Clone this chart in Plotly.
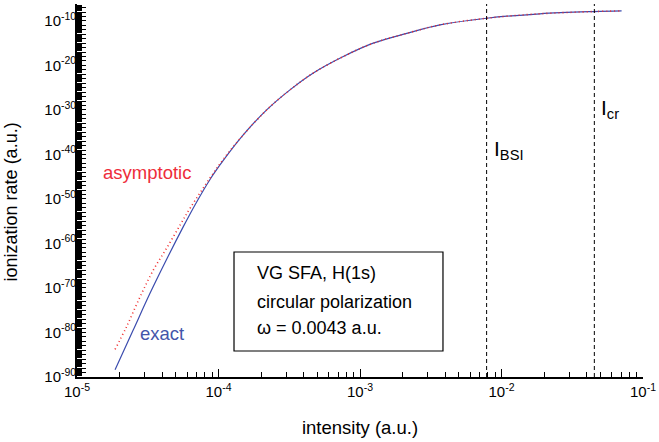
import math
import plotly.graph_objects as go

# ---- data ----
exact_intensity = [1.858e-5, 2.50e-5, 3.28e-5, 4.31e-5, 5.64e-5, 6.82e-5, 8.71e-5, 1.081e-4,
                   1.496e-4, 2.19e-4, 3.20e-4, 4.68e-4, 7.62e-4, 1.24e-3, 2.14e-3, 3.67e-3,
                   7.85e-3, 1.87e-2, 4.47e-2, 7.06e-2]
exact_rate = [4.0e-89, 4.0e-80, 6.3e-72, 3.2e-64, 6.0e-57, 4.5e-52, 2.4e-46, 4.5e-42,
              2.4e-36, 1.0e-30, 3.2e-26, 2.0e-22, 1.0e-18, 1.0e-15, 1.6e-13, 1.26e-11,
              4.0e-10, 4.0e-9, 1.26e-8, 1.78e-8]

asym_intensity = [1.858e-5, 2.24e-5, 2.79e-5, 3.46e-5, 4.31e-5, 5.37e-5, 6.35e-5, 8.71e-5,
                  1.081e-4, 1.496e-4, 2.19e-4, 3.20e-4, 4.68e-4, 7.62e-4, 1.24e-3, 2.14e-3,
                  3.67e-3, 7.85e-3, 1.87e-2, 4.47e-2, 7.06e-2]
asym_rate = [1.6e-84, 2.0e-79, 1.0e-72, 1.0e-66, 1.0e-61, 1.6e-56, 1.26e-52, 5.0e-46,
             8.0e-42, 2.5e-36, 1.0e-30, 3.2e-26, 2.0e-22, 1.0e-18, 1.0e-15, 1.6e-13,
             1.26e-11, 4.0e-10, 4.0e-9, 1.26e-8, 1.78e-8]

marker_names = ["BSI", "cr"]
marker_intensity = [7.85e-3, 4.53e-2]

x_decades = [-5, -4, -3, -2, -1]
y_label_decades = [-90, -80, -70, -60, -50, -40, -30, -20, -10]
info_lines = ["VG SFA, H(1s)", "circular polarization", "ω = 0.0043 a.u."]

FONT = "Liberation Sans, Arial, Helvetica, sans-serif"
BLUE = "#3b4cae"
RED = "#f02a2a"

fig = go.Figure()
fig.add_trace(go.Scatter(x=exact_intensity, y=exact_rate, mode="lines",
                         line=dict(color=BLUE, width=1.2, shape="spline", smoothing=1.0),
                         showlegend=False, name="exact"))
fig.add_trace(go.Scatter(x=asym_intensity, y=asym_rate, mode="lines",
                         line=dict(color=RED, width=1.6, dash="1px,3px", shape="spline",
                                   smoothing=1.0),
                         showlegend=False, name="asymptotic"))

for xi in marker_intensity:
    fig.add_shape(type="line", xref="x", yref="paper", x0=xi, x1=xi, y0=0, y1=1,
                  line=dict(color="black", width=1, dash="4px,3px"))

# axis ticks
x_tickvals = [10.0 ** d for d in x_decades]
x_ticktext = ["10<sup>%d</sup>" % d for d in x_decades]
x_minor = [k * 10.0 ** d for d in x_decades[:-1] for k in range(2, 10)]

y_all = list(range(-90, -6))
y_tickvals = [10.0 ** d for d in y_all]
y_ticktext = [("10<sup>%d</sup>" % d) if d in y_label_decades else "" for d in y_all]
y_minor = [k * 10.0 ** d for d in range(-90, -6) for k in range(2, 10)]

fig.update_layout(
    width=659, height=442,
    margin=dict(l=77, r=16, t=4, b=65),
    paper_bgcolor="white", plot_bgcolor="white",
    font=dict(family=FONT, color="black", size=15),
    xaxis=dict(type="log", range=[-5, -1], showgrid=False, zeroline=False,
               showline=True, linecolor="black", linewidth=1.6,
               ticks="inside", ticklen=8, tickwidth=1, tickcolor="black",
               tickmode="array", tickvals=x_tickvals, ticktext=x_ticktext,
               tickfont=dict(size=15, family=FONT),
               minor=dict(tickmode="array", tickvals=x_minor, ticks="inside",
                          ticklen=5, tickwidth=1, tickcolor="black", showgrid=False),
               title=dict(text="intensity (a.u.)", font=dict(size=18.5, family=FONT), standoff=22)),
    yaxis=dict(type="log", range=[-90, -6.2], showgrid=False, zeroline=False,
               showline=True, linecolor="black", linewidth=1.6,
               ticks="inside", ticklen=9, tickwidth=1.2, tickcolor="black",
               tickmode="array", tickvals=y_tickvals, ticktext=y_ticktext,
               tickfont=dict(size=15, family=FONT), ticklabelstandoff=-4,
               minor=dict(tickmode="array", tickvals=y_minor, ticks="inside",
                          ticklen=5, tickwidth=1, tickcolor="black", showgrid=False)),
)

# y-axis title
fig.add_annotation(text="ionization rate (a.u.)", xref="paper", yref="paper",
                   x=-0.1166, y=0.468, textangle=-90, showarrow=False,
                   xanchor="center", yanchor="middle",
                   font=dict(size=18, family=FONT, color="black"))

# series labels
fig.add_annotation(text="asymptotic", xref="paper", yref="paper", x=0.1235, y=0.547,
                   xanchor="center", yanchor="middle",
                   showarrow=False, font=dict(size=18.5, family=FONT, color="#ee2d3a"))
fig.add_annotation(text="exact", xref="paper", yref="paper", x=0.1498, y=0.1164,
                   xanchor="center", yanchor="middle",
                   showarrow=False, font=dict(size=18.5, family=FONT, color="#4455aa"))

# marker labels
marker_label_y = [0.650, 0.758]
for name, xi, yy in zip(marker_names, marker_intensity, marker_label_y):
    fig.add_annotation(text="I<sub>%s</sub>" % name, xref="x", yref="paper",
                       x=math.log10(xi), y=yy, xanchor="left", yanchor="top", xshift=5,
                       showarrow=False, font=dict(size=21, family=FONT, color="black"))

# info box
fig.add_shape(type="rect", xref="paper", yref="paper", x0=0.2774, x1=0.6466,
              y0=0.0697, y1=0.3351, line=dict(color="black", width=1.2), fillcolor="white",
              layer="above")
info_y = [0.2786, 0.2008, 0.1311]
for txt, yy in zip(info_lines, info_y):
    fig.add_annotation(text=txt, xref="paper", yref="paper", x=0.3145, y=yy,
                       xanchor="left", yanchor="middle", showarrow=False,
                       font=dict(size=18, family=FONT, color="black"))

fig.write_html("out.html")
